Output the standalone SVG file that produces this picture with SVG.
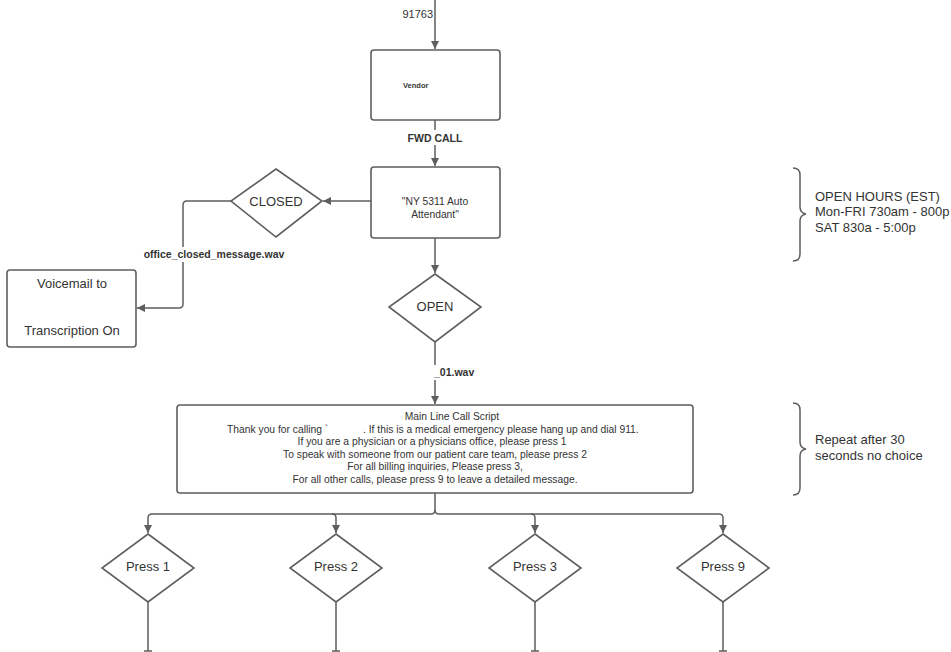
<svg xmlns="http://www.w3.org/2000/svg" width="951" height="652" viewBox="0 0 951 652">
<defs>
<marker id="ah" markerWidth="10" markerHeight="10" refX="9" refY="5" orient="auto" markerUnits="userSpaceOnUse">
<path d="M1,1 L9,5 L1,9 Z" fill="#5e5e5e"/>
</marker>
</defs>
<style>
.n{fill:#fff;stroke:#5e5e5e;stroke-width:1.6}
.c{fill:none;stroke:#5e5e5e;stroke-width:1.5}
.t{font-family:"Liberation Sans",Arial,sans-serif;fill:#333;font-size:13px}
.s{font-size:10.3px}
.b{font-weight:bold;font-size:10.5px}
.m{text-anchor:middle}
</style>
<rect width="951" height="652" fill="#fff"/>
<g id="connectors">
<path class="c" d="M435,0 V49" marker-end="url(#ah)"/>
<path class="c" d="M435,120 V166" marker-end="url(#ah)"/>
<path class="c" d="M371,201 H323" marker-end="url(#ah)"/>
<path class="c" d="M231,201 H187 Q183,201 183,205 V304 Q183,308 179,308 H137" marker-end="url(#ah)"/>
<path class="c" d="M435,238 V273" marker-end="url(#ah)"/>
<path class="c" d="M435,342 V404" marker-end="url(#ah)"/>
<path class="c" d="M435,493 V510 Q435,514 431,514 H152 Q148,514 148,518 V533" marker-end="url(#ah)"/>
<path class="c" d="M435,510 Q435,514 439,514 H719 Q723,514 723,518 V533" marker-end="url(#ah)"/>
<path class="c" d="M332,514 Q336,514 336,518 V533" marker-end="url(#ah)"/>
<path class="c" d="M531,514 Q535,514 535,518 V533" marker-end="url(#ah)"/>
<path class="c" d="M148,602 V651 M144,651 H152"/>
<path class="c" d="M336,602 V651 M332,651 H340"/>
<path class="c" d="M535,602 V651 M531,651 H539"/>
<path class="c" d="M723,602 V651 M719,651 H727"/>
<rect x="396" y="6" width="38" height="15" fill="#fff"/>
<text class="t" x="433" y="18" text-anchor="end" style="font-size:11px">91763</text>
<rect x="404" y="130" width="62" height="15" fill="#fff"/>
<text class="t b m" x="435" y="142">FWD CALL</text>
<rect x="143" y="247" width="143" height="15" fill="#fff"/>
<text class="t b m" x="214" y="258">office_closed_message.wav</text>
<rect x="432" y="365" width="42" height="15" fill="#fff"/>
<text class="t b" x="434" y="376">_01.wav</text>
</g>
<g id="vendor">
<rect class="n" x="371" y="50" width="129" height="70" rx="3"/>
<text class="t" x="403" y="88" style="font-size:7.5px;font-weight:bold">Vendor</text>
</g>
<g id="auto-attendant">
<rect class="n" x="371" y="167" width="129" height="71" rx="3"/>
<text class="t s m" x="435" y="205">"NY 5311 Auto</text>
<text class="t s m" x="435" y="218">Attendant"</text>
</g>
<g id="closed">
<polygon class="n" points="276,169 322,201 276,237 231,201"/>
<text class="t m" x="276" y="206">CLOSED</text>
</g>
<g id="voicemail">
<rect class="n" x="7" y="270" width="129" height="77" rx="3"/>
<text class="t m" x="72" y="288">Voicemail to</text>
<text class="t m" x="72" y="335">Transcription On</text>
</g>
<g id="open">
<polygon class="n" points="435,274 481,307 435,342 389,307"/>
<text class="t m" x="435" y="311">OPEN</text>
</g>
<g id="script">
<rect class="n" x="177" y="405" width="516" height="88" rx="3"/>
<text class="t s m" x="452" y="420">Main Line Call Script</text>
<text class="t s" x="227" y="433">Thank you for calling `</text>
<text class="t s" x="363" y="433">. If this is a medical emergency please hang up and dial 911.</text>
<text class="t s m" x="432" y="445">If you are a physician or a physicians office, please press 1</text>
<text class="t s m" x="435" y="458">To speak with someone from our patient care team, please press 2</text>
<text class="t s m" x="435" y="470">For all billing inquiries, Please press 3,</text>
<text class="t s m" x="435" y="483">For all other calls, please press 9 to leave a detailed message.</text>
</g>
<g id="press1">
<polygon class="n" points="148,534 194,568 148,602 102,568"/>
<text class="t m" x="148" y="571">Press 1</text>
</g>
<g id="press2">
<polygon class="n" points="336,534 382,568 336,602 290,568"/>
<text class="t m" x="336" y="571">Press 2</text>
</g>
<g id="press3">
<polygon class="n" points="535,534 581,568 535,602 489,568"/>
<text class="t m" x="535" y="571">Press 3</text>
</g>
<g id="press9">
<polygon class="n" points="723,534 769,568 723,602 677,568"/>
<text class="t m" x="723" y="571">Press 9</text>
</g>
<g id="open-hours">
<path class="c" d="M793,168 Q800,168 800,175 V207 Q800,213 806,214 Q800,215 800,221 V254 Q800,261 793,261"/>
<text class="t" x="815" y="201">OPEN HOURS (EST)</text>
<text class="t" x="815" y="216">Mon-FRI 730am - 800p</text>
<text class="t" x="815" y="232">SAT 830a - 5:00p</text>
</g>
<g id="repeat">
<path class="c" d="M793,403 Q800,403 800,410 V442 Q800,448 806,449 Q800,450 800,456 V488 Q800,495 793,495"/>
<text class="t" x="815" y="444">Repeat after 30</text>
<text class="t" x="815" y="460">seconds no choice</text>
</g>
</svg>
